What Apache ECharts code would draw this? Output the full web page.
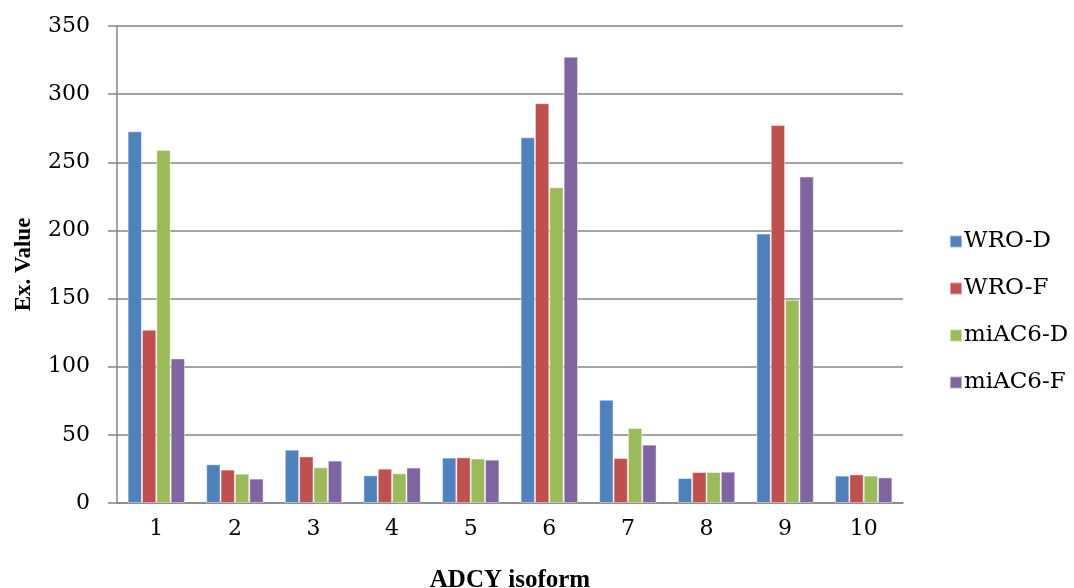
<!DOCTYPE html>
<html>
<head>
<meta charset="utf-8">
<script src="https://cdn.jsdelivr.net/npm/echarts@6/dist/echarts.min.js"></script>
<style>
html,body{margin:0;padding:0;background:#fff;}
#chart{width:1074px;height:588px;}
</style>
</head>
<body>
<div id="chart"></div>
<script>
var isoforms = ['1','2','3','4','5','6','7','8','9','10'];
var wroD   = [272.7, 28.4, 39.1, 20.3, 33.3, 268.3, 75.8, 18.3, 197.7, 20.1];
var wroF   = [127.1, 24.5, 34.2, 25.2, 33.5, 293.3, 33.0, 22.7, 277.4, 21.0];
var miac6D = [259.1, 21.5, 26.2, 21.8, 32.6, 231.7, 55.0, 22.7, 149.1, 20.1];
var miac6F = [106.1, 17.9, 31.1, 26.0, 31.8, 327.5, 42.8, 23.0, 239.5, 18.8];
var yTicks = [0, 350, 50];

var chart = echarts.init(document.getElementById('chart'));
var axisGrey = '#868686';
var serif = 'DejaVu Serif';

function bar(name, color, data) {
	return {
		name: name,
		type: 'bar',
		data: data,
		barGap: '0%',
		barCategoryGap: '27%',
		itemStyle: {color: color, borderColor: 'rgba(255,255,255,0.45)', borderWidth: 1}
	};
}

var option = {
	animation: false,
	color: ['#4F81BD', '#C0504D', '#9BBB59', '#8064A2'],
	grid: {left: 117, right: 171, top: 26, bottom: 85, containLabel: false, outerBoundsMode: 'none'},
	legend: {
		orient: 'vertical',
		left: 944,
		top: 225,
		itemWidth: 12,
		itemHeight: 12,
		itemGap: 24,
		icon: 'rect',
		textStyle: {fontFamily: serif, fontSize: 23, lineHeight: 22, color: '#000', padding: [0, 0, 0, -3]},
		data: ['WRO-D', 'WRO-F', 'miAC6-D', 'miAC6-F']
	},
	xAxis: {
		type: 'category',
		data: isoforms,
		name: 'ADCY isoform',
		nameLocation: 'middle',
		nameGap: 65,
		nameTextStyle: {fontFamily: 'Liberation Serif', fontWeight: 'bold', fontSize: 25, color: '#000'},
		axisLine: {lineStyle: {color: axisGrey, width: 1.5}},
		axisTick: {length: 8, lineStyle: {color: axisGrey, width: 1.5}},
		axisLabel: {fontFamily: serif, fontSize: 22, color: '#000', margin: 15}
	},
	yAxis: {
		type: 'value',
		min: yTicks[0],
		max: yTicks[1],
		interval: yTicks[2],
		name: 'Ex. Value',
		nameLocation: 'middle',
		nameGap: 81,
		nameTextStyle: {fontFamily: 'Liberation Serif', fontWeight: 'bold', fontSize: 23, color: '#000'},
		axisLine: {show: true, lineStyle: {color: axisGrey, width: 1.5}},
		axisTick: {show: true, length: 9, lineStyle: {color: axisGrey, width: 1.5}},
		axisLabel: {fontFamily: serif, fontSize: 22, color: '#000', margin: 27},
		splitLine: {lineStyle: {color: axisGrey, width: 1.5}}
	},
	series: [
		bar('WRO-D', '#4F81BD', wroD),
		bar('WRO-F', '#C0504D', wroF),
		bar('miAC6-D', '#9BBB59', miac6D),
		bar('miAC6-F', '#8064A2', miac6F)
	]
};
chart.setOption(option);
</script>
</body>
</html>
